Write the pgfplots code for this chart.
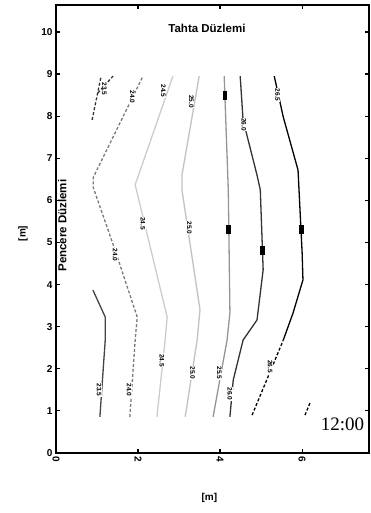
\documentclass[border=0pt]{standalone}
\usepackage{pgfplots}
\pgfplotsset{compat=1.18}
\usepackage{fontspec}
\setmainfont{Liberation Sans}
\newfontfamily\seriffont{Liberation Serif}
\definecolor{cA}{HTML}{444444}
\definecolor{cB}{HTML}{7A7A7A}
\definecolor{cC}{HTML}{CCCCCC}
\definecolor{cD}{HTML}{C2C2C2}
\definecolor{cE}{HTML}{959595}
\definecolor{cF}{HTML}{333333}
\begin{document}
\begin{tikzpicture}[x=1pt,y=1pt]
\useasboundingbox (0,0) rectangle (370,513);
\begin{axis}[
  at={(56pt,60pt)}, anchor=south west, scale only axis,
  width=313pt, height=448pt,
  xmin=0, xmax=7.63, ymin=0, ymax=10.64,
  xtick={0,2,4,6}, ytick={0,1,...,10},
  tick align=inside, major tick length=4pt,
  axis line style={line width=1.4pt},
  every tick/.style={line width=1.2pt, black},
  tick label style={font=\bfseries\fontsize{10}{11}\selectfont},
  xticklabel style={rotate=-90, anchor=west},
  /pgf/number format/assume math mode=true,
  xlabel={\bfseries [m]}, ylabel={\bfseries [m]},
  label style={font=\bfseries\fontsize{10}{11}\selectfont},
  xlabel style={at={(axis description cs:0.49,0)}, anchor=center, yshift=-45pt},
  ylabel style={at={(axis description cs:0,0.49)}, anchor=center, yshift=33pt},
  clip=false,
]
% short dashed pieces top-left
\addplot[cF, line width=1.3pt, densely dashed] coordinates {(0.88,7.91) (1.10,8.95)};
\addplot[cF, line width=1.3pt, densely dashed] coordinates {(1.02,8.55) (1.39,8.95)};
% line A
\addplot[cA, line width=1.3pt] coordinates {(1.07,0.86) (1.20,2.68) (1.20,3.23) (0.90,3.87)};
% line B
\addplot[cB, line width=1.3pt, densely dashed] coordinates {(1.80,0.86) (1.93,2.68) (1.98,3.23) (1.44,4.82) (0.91,6.30) (0.91,6.55) (2.12,8.95)};
% line C
\addplot[cC, line width=1.3pt] coordinates {(2.46,0.86) (2.66,2.68) (2.71,3.23) (1.93,6.37) (2.85,8.95)};
% line D
\addplot[cD, line width=1.3pt] coordinates {(3.15,0.86) (3.44,2.68) (3.51,3.40) (3.07,6.25) (3.07,6.60) (3.49,8.95)};
% line E
\addplot[cE, line width=1.3pt] coordinates {(3.83,0.86) (4.17,2.68) (4.24,3.33) (4.20,6.25) (4.10,8.95)};
% line F
\addplot[cF, line width=1.3pt] coordinates {(4.24,0.86) (4.32,1.73) (4.56,2.68) (4.90,3.16) (5.05,4.35) (4.98,6.25) (4.90,6.60) (4.56,7.91) (4.49,8.95)};
% line G
\addplot[black, line width=1.3pt] coordinates {(5.54,2.68) (5.78,3.33) (6.02,4.11) (6.00,4.75) (5.90,6.72) (5.54,7.98) (5.32,8.95)};
\addplot[black, line width=1.3pt, densely dashed] coordinates {(4.78,0.90) (5.54,2.68)};
% line H
\addplot[black, line width=1.3pt, densely dashed] coordinates {(6.07,0.90) (6.20,1.21)};
% contour labels
\tikzset{cl/.style={font=\bfseries\fontsize{6.5}{7}\selectfont, rotate=-90, fill=white, inner sep=0.6pt},
         blk/.style={fill=black, minimum width=4.5pt, minimum height=9pt, inner sep=0pt}}
\node[cl] at (axis cs:1.18,8.65) {23.5};
\node[cl] at (axis cs:1.86,8.45) {24.0};
\node[cl] at (axis cs:2.62,8.60) {24.5};
\node[cl] at (axis cs:3.30,8.35) {25.0};
\node[blk] at (axis cs:4.12,8.48) {};
\node[cl] at (axis cs:4.58,7.80) {26.0};
\node[cl] at (axis cs:5.40,8.50) {26.5};
\node[cl] at (axis cs:1.44,4.70) {24.0};
\node[cl] at (axis cs:2.12,5.45) {24.5};
\node[cl] at (axis cs:3.25,5.35) {25.0};
\node[blk] at (axis cs:4.20,5.30) {};
\node[blk] at (axis cs:5.03,4.80) {};
\node[blk] at (axis cs:5.98,5.30) {};
\node[cl] at (axis cs:1.05,1.50) {23.5};
\node[cl] at (axis cs:1.78,1.50) {24.0};
\node[cl] at (axis cs:2.58,2.20) {24.5};
\node[cl] at (axis cs:3.33,1.90) {25.0};
\node[cl] at (axis cs:3.98,1.90) {25.5};
\node[cl] at (axis cs:4.24,1.40) {26.0};
\node[cl] at (axis cs:5.22,2.05) {26.5};
% texts
\node[font=\bfseries\fontsize{11.5}{12}\selectfont] at (axis cs:3.68,10.09) {Tahta Düzlemi};
\node[font=\bfseries\fontsize{11.5}{12}\selectfont, rotate=90] at (axis cs:0.15,5.40) {Pencere Düzlemi};
\node[font=\seriffont\fontsize{19}{20}\selectfont, anchor=east] at (axis cs:7.60,0.67) {12:00};
\end{axis}
\end{tikzpicture}
\end{document}
